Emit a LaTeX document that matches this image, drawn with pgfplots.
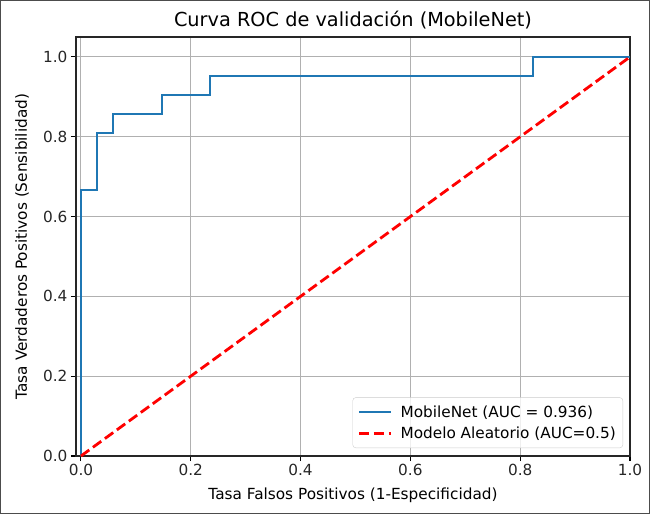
\documentclass[border=0pt]{standalone}
\usepackage{fontspec}
\setmainfont{DejaVu Sans}
\usepackage{pgfplots}
\pgfplotsset{compat=1.18}
\definecolor{mplblue}{HTML}{1F77B4}
\definecolor{mplgrid}{HTML}{B0B0B0}
\newcommand\fs{\fontsize{15.3bp}{18bp}\selectfont}
\begin{document}
\begin{tikzpicture}
\begin{axis}[
  scale only axis,
  width=554bp, height=419bp,
  xmin=-0.009, xmax=1.0,
  ymin=0, ymax=1.05,
  xtick={0,0.2,0.4,0.6,0.8,1.0},
  ytick={0,0.2,0.4,0.6,0.8,1.0},
  xtick pos=bottom, ytick pos=left,
  /pgf/number format/.cd, fixed, fixed zerofill, precision=1, assume math mode=true,
  /pgfplots/.cd,
  ticklabel style={font=\fs, black!85},
  tick align=outside,
  major tick length=5bp,
  tick style={black, line width=1.1bp},
  axis line style={black!85, line width=1.1bp},
  grid=major,
  major grid style={mplgrid, line width=1bp},
  title={Curva ROC de validación (MobileNet)},
  title style={font=\fontsize{19.3bp}{22bp}\selectfont, at={(rel axis cs:0.5,1)}, anchor=center, yshift=11bp},
  xlabel={Tasa Falsos Positivos (1-Especificidad)},
  ylabel={Tasa Verdaderos Positivos (Sensibilidad)},
  every axis x label/.style={at={(rel axis cs:0.5,0)}, anchor=center, yshift=-39bp, font=\fs},
  every axis y label/.style={at={(rel axis cs:0,0.5)}, anchor=center, rotate=90, yshift=54bp, font=\fs},
  legend cell align=left,
  legend image code/.code={\draw[#1] (0bp,0bp) -- (32bp,0bp); \path (38bp,0bp);},
  legend style={at={(rel axis cs:1,0)}, anchor=south east, xshift=-7bp, yshift=8bp,
    draw=black!20, rounded corners=3bp, fill=white, fill opacity=0.8, text opacity=1,
    font=\fs, row sep=4bp, inner xsep=5bp, inner ysep=6bp},
]
\addplot[mplblue, line width=2bp] coordinates {
  (0,0) (0,0.6667) (0.0294,0.6667) (0.0294,0.8095) (0.0588,0.8095) (0.0588,0.8571)
  (0.1471,0.8571) (0.1471,0.9048) (0.2353,0.9048) (0.2353,0.9524)
  (0.8235,0.9524) (0.8235,1.0) (1.0,1.0)
};
\addlegendentry{MobileNet (AUC = 0.936)}
\addplot[red, line width=2.8bp, dash pattern=on 10.3bp off 4.5bp] coordinates {
  (0,0) (1,1)
};
\addlegendentry{Modelo Aleatorio (AUC=0.5)}
\end{axis}
\draw[line width=1.5bp, black!70] (-75.25bp,-57.25bp) rectangle (573.25bp,455.25bp);
\end{tikzpicture}
\end{document}
